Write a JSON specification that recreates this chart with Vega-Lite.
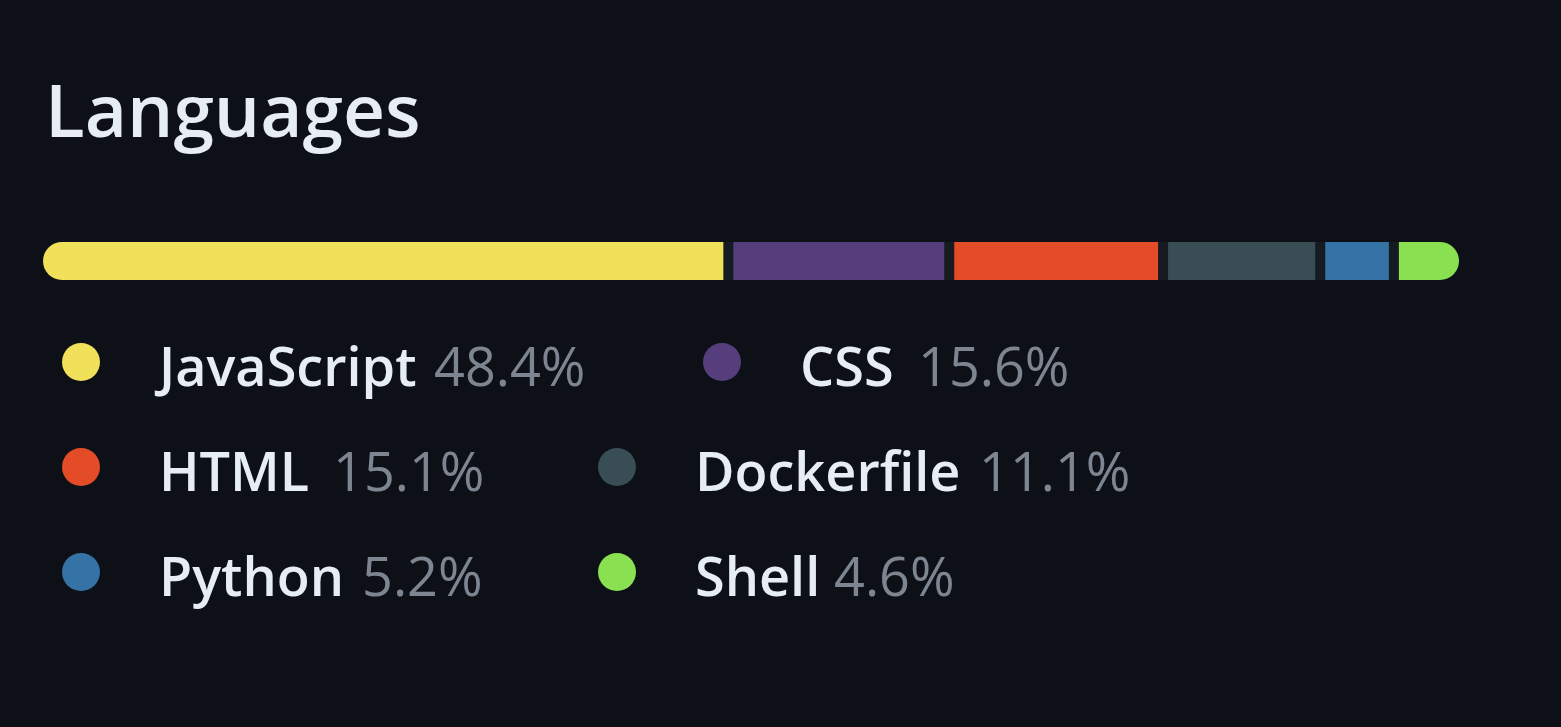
{
  "$schema": "https://vega.github.io/schema/vega-lite/v6.json",
  "width": 1561,
  "height": 557,
  "autosize": {"type": "none"},
  "padding": {"left": 0, "right": 0, "top": 170, "bottom": 0},
  "background": "#0d1117",
  "config": {"view": {"stroke": null}},
  "title": {
    "text": "Languages",
    "anchor": "start",
    "frame": "group",
    "font": "Open Sans",
    "fontWeight": 600,
    "fontSize": 73,
    "color": "#e6edf3",
    "dx": 45,
    "dy": 71,
    "baseline": "alphabetic",
    "offset": 31
  },
  "data": {
    "values": [
      {"lang": "JavaScript", "pct": 0.484, "color": "#f1e05a"},
      {"lang": "CSS", "pct": 0.156, "color": "#563d7c"},
      {"lang": "HTML", "pct": 0.151, "color": "#e34c26"},
      {"lang": "Dockerfile", "pct": 0.111, "color": "#384d54"},
      {"lang": "Python", "pct": 0.052, "color": "#3572a5"},
      {"lang": "Shell", "pct": 0.046, "color": "#89e051"}
    ]
  },
  "transform": [
    {"window": [{"op": "row_number", "as": "rank"}], "sort": [{"field": "pct", "order": "descending"}]},
    {"stack": "pct", "groupby": [], "sort": [{"field": "pct", "order": "descending"}], "as": ["start", "end"]}
  ],
  "layer": [
    {
      "encoding": {
        "y": {"datum": "bar", "type": "nominal", "scale": {"type": "band", "domain": ["bar"], "range": [72, 110], "paddingInner": 0, "paddingOuter": 0}, "axis": null}
      },
      "layer": [
        {
          "transform": [{"filter": "datum.rank == 1"}],
          "mark": {"type": "bar", "color": "#161b22", "cornerRadius": 19},
          "encoding": {
            "x": {"datum": 0, "type": "quantitative", "scale": {"domain": [0, 1], "range": [43, 1459], "nice": false, "zero": false}, "axis": null},
            "x2": {"datum": 1}
          }
        },
        {
          "transform": [{"filter": "datum.rank == 1"}],
          "mark": {"type": "bar", "cornerRadiusTopLeft": 19, "cornerRadiusBottomLeft": 19, "x2Offset": -5},
          "encoding": {
            "x": {"field": "start", "type": "quantitative", "axis": null},
            "x2": {"field": "end"},
            "color": {"field": "color", "type": "nominal", "scale": null}
          }
        },
        {
          "transform": [{"filter": "datum.rank > 1 && datum.rank < 6"}],
          "mark": {"type": "bar", "xOffset": 5, "x2Offset": -5},
          "encoding": {
            "x": {"field": "start", "type": "quantitative", "axis": null},
            "x2": {"field": "end"},
            "color": {"field": "color", "type": "nominal", "scale": null}
          }
        },
        {
          "transform": [{"filter": "datum.rank == 6"}],
          "mark": {"type": "bar", "cornerRadiusTopRight": 19, "cornerRadiusBottomRight": 19, "xOffset": 5},
          "encoding": {
            "x": {"field": "start", "type": "quantitative", "axis": null},
            "x2": {"field": "end"},
            "color": {"field": "color", "type": "nominal", "scale": null}
          }
        }
      ]
    },
    {
      "encoding": {
        "x": {"field": "rank", "type": "quantitative", "scale": {"domain": [1, 2, 3, 4, 5, 6], "range": [81, 722, 81, 617, 81, 617], "nice": false, "zero": false}, "axis": null},
        "y": {"field": "rank", "type": "quantitative", "scale": {"domain": [1, 2, 3, 4, 5, 6], "range": [192, 192, 297, 297, 402, 402], "nice": false, "zero": false}, "axis": null}
      },
      "layer": [
        {
          "mark": {"type": "circle", "size": 1444, "opacity": 1},
          "encoding": {"color": {"field": "color", "type": "nominal", "scale": null}}
        },
        {
          "mark": {"type": "text", "align": "left", "baseline": "alphabetic", "dx": 78, "dy": 24, "font": "Open Sans", "fontWeight": 600, "fontSize": 54, "color": "#e6edf3"},
          "encoding": {"text": {"field": "lang", "type": "nominal"}}
        }
      ]
    },
    {
      "mark": {"type": "text", "align": "left", "baseline": "alphabetic", "dy": 24, "font": "Open Sans", "fontWeight": 400, "fontSize": 54, "color": "#7d8590"},
      "encoding": {
        "x": {"field": "rank", "type": "quantitative", "scale": {"domain": [1, 2, 3, 4, 5, 6], "range": [434, 918, 333, 979, 362, 834], "nice": false, "zero": false}, "axis": null},
        "y": {"field": "rank", "type": "quantitative", "scale": {"domain": [1, 2, 3, 4, 5, 6], "range": [192, 192, 297, 297, 402, 402], "nice": false, "zero": false}, "axis": null},
        "text": {"field": "pct", "type": "quantitative", "format": ".1%"}
      }
    }
  ],
  "resolve": {"scale": {"x": "independent", "y": "independent"}}
}
